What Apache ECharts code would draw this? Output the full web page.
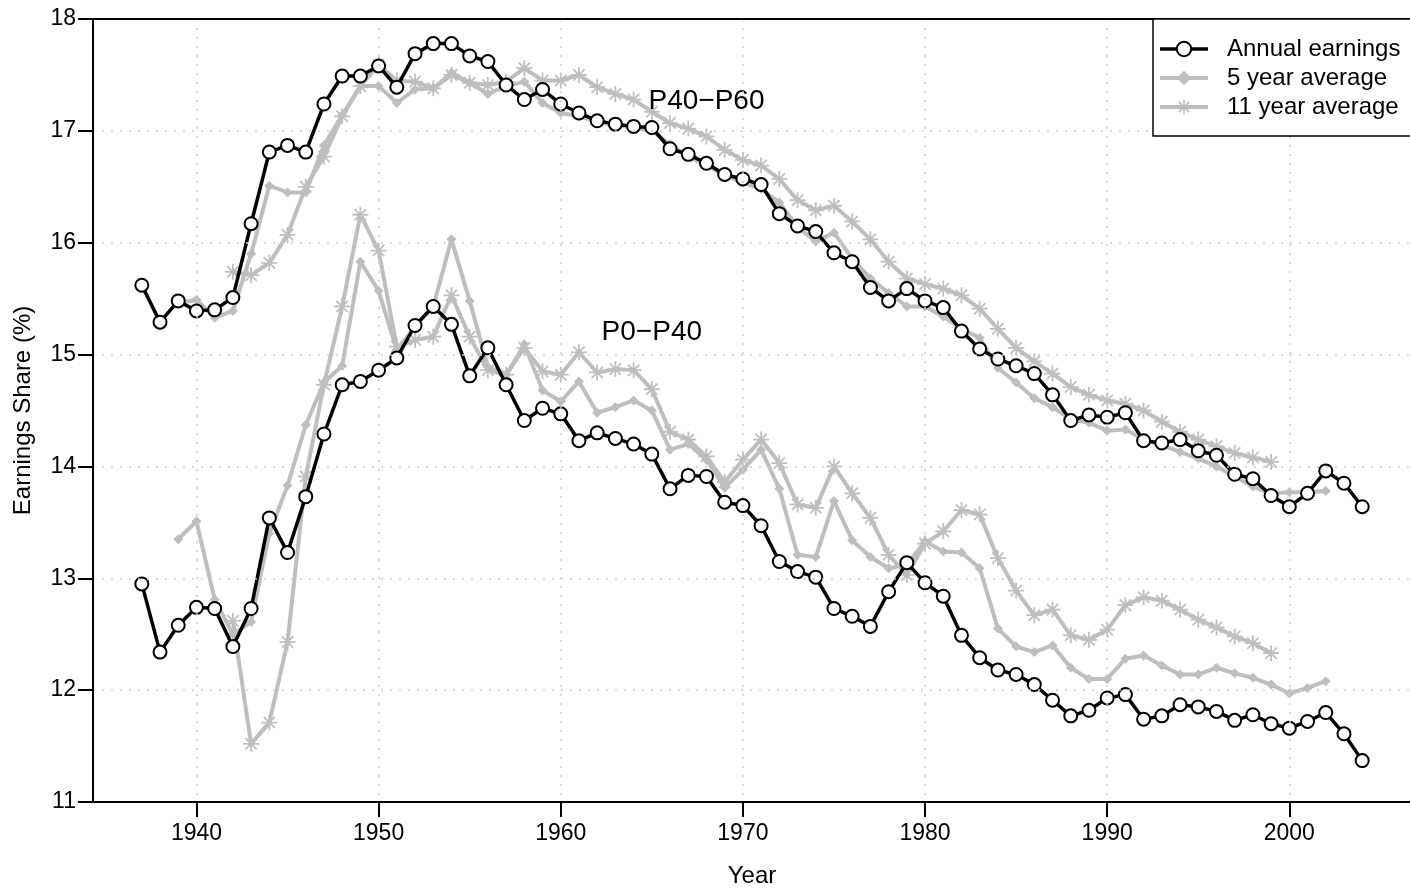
<!DOCTYPE html>
<html>
<head>
<meta charset="utf-8">
<script src="https://cdn.jsdelivr.net/npm/echarts@6/dist/echarts.min.js"></script>
<style>
html,body{margin:0;padding:0;background:#fff;}
#chart{width:1410px;height:888px;}
</style>
</head>
<body>
<div id="chart"></div>
<script>
// ---- Data ----
const annualStart = 1937;   // annual series: 1937-2004
const ma5Start = 1939;      // 5 year average: 1939-2002
const ma11Start = 1942;     // 11 year average: 1942-1999

const midAnnual = [
  15.62, 15.29, 15.48, 15.39, 15.40, 15.51, 16.17, 16.81, 16.87, 16.81, // 1937-1946
  17.24, 17.49, 17.49, 17.58, 17.39, 17.69, 17.78, 17.78, 17.67, 17.62, // 1947-1956
  17.41, 17.28, 17.37, 17.24, 17.16, 17.09, 17.06, 17.04, 17.03, 16.84, // 1957-1966
  16.79, 16.71, 16.61, 16.57, 16.52, 16.26, 16.15, 16.10, 15.91, 15.83, // 1967-1976
  15.60, 15.48, 15.59, 15.48, 15.42, 15.21, 15.05, 14.96, 14.90, 14.83, // 1977-1986
  14.64, 14.41, 14.46, 14.44, 14.48, 14.23, 14.21, 14.24, 14.14, 14.10, // 1987-1996
  13.93, 13.89, 13.74, 13.64, 13.76, 13.96, 13.85, 13.64              // 1997-2004
];
const mid5 = [
  15.46, 15.49, 15.33, 15.39, 15.90, 16.51, 16.45, 16.45, 16.87, 17.14, // 1939-1948
  17.40, 17.40, 17.25, 17.37, 17.38, 17.52, 17.43, 17.33, 17.40, 17.44, // 1949-1958
  17.25, 17.16, 17.13, 17.08, 17.05, 17.03, 17.00, 16.88, 16.77, 16.69, // 1959-1968
  16.60, 16.54, 16.48, 16.36, 16.14, 16.01, 16.09, 15.86, 15.68, 15.55, // 1969-1978
  15.43, 15.43, 15.34, 15.23, 15.15, 14.88, 14.75, 14.61, 14.53, 14.42, // 1979-1988
  14.39, 14.32, 14.33, 14.24, 14.19, 14.13, 14.07, 14.00, 13.91, 13.82, // 1989-1998
  13.76, 13.77, 13.77, 13.78                                            // 1999-2002
];
const mid11 = [
  15.74, 15.71, 15.82, 16.07, 16.50, 16.77, 17.13, 17.40, 17.59, 17.45, // 1942-1951
  17.44, 17.38, 17.50, 17.43, 17.41, 17.44, 17.56, 17.45, 17.45, 17.50, // 1952-1961
  17.39, 17.33, 17.28, 17.17, 17.07, 17.02, 16.95, 16.83, 16.74, 16.69, // 1962-1971
  16.57, 16.38, 16.29, 16.33, 16.19, 16.03, 15.83, 15.68, 15.63, 15.59, // 1972-1981
  15.53, 15.41, 15.23, 15.06, 14.94, 14.83, 14.71, 14.64, 14.59, 14.56, // 1982-1991
  14.50, 14.40, 14.31, 14.24, 14.18, 14.12, 14.08, 14.04              // 1992-1999
];
const lowAnnual = [
  12.95, 12.34, 12.58, 12.74, 12.73, 12.39, 12.73, 13.54, 13.23, 13.73, // 1937-1946
  14.29, 14.73, 14.76, 14.86, 14.97, 15.26, 15.43, 15.27, 14.81, 15.06, // 1947-1956
  14.73, 14.41, 14.52, 14.47, 14.23, 14.30, 14.25, 14.20, 14.11, 13.80, // 1957-1966
  13.92, 13.91, 13.68, 13.65, 13.47, 13.15, 13.06, 13.01, 12.73, 12.66, // 1967-1976
  12.57, 12.88, 13.14, 12.96, 12.84, 12.49, 12.29, 12.18, 12.14, 12.05, // 1977-1986
  11.91, 11.77, 11.82, 11.93, 11.96, 11.74, 11.77, 11.87, 11.85, 11.81, // 1987-1996
  11.73, 11.78, 11.70, 11.66, 11.72, 11.80, 11.61, 11.37              // 1997-2004
];
const low5 = [
  13.35, 13.51, 12.81, 12.50, 12.61, 13.40, 13.83, 14.37, 14.75, 14.90, // 1939-1948
  15.83, 15.57, 15.04, 15.25, 15.43, 16.03, 15.48, 14.89, 14.82, 15.09, // 1949-1958
  14.68, 14.58, 14.76, 14.48, 14.53, 14.59, 14.50, 14.15, 14.20, 14.06, // 1959-1968
  13.81, 13.97, 14.15, 13.80, 13.21, 13.19, 13.69, 13.34, 13.19, 13.09, // 1969-1978
  13.12, 13.33, 13.24, 13.23, 13.09, 12.55, 12.39, 12.34, 12.40, 12.20, // 1979-1988
  12.10, 12.10, 12.28, 12.31, 12.22, 12.14, 12.14, 12.20, 12.15, 12.11, // 1989-1998
  12.05, 11.97, 12.02, 12.08                                            // 1999-2002
];
const low11 = [
  12.62, 11.52, 11.71, 12.43, 13.91, 14.73, 15.43, 16.25, 15.93, 15.07, // 1942-1951
  15.13, 15.16, 15.53, 15.16, 14.86, 14.82, 15.06, 14.85, 14.82, 15.02, // 1952-1961
  14.84, 14.87, 14.86, 14.69, 14.31, 14.24, 14.09, 13.86, 14.06, 14.24, // 1962-1971
  14.03, 13.66, 13.63, 14.00, 13.76, 13.54, 13.21, 13.03, 13.31, 13.42, // 1972-1981
  13.61, 13.57, 13.18, 12.89, 12.67, 12.72, 12.49, 12.45, 12.54, 12.76, // 1982-1991
  12.83, 12.80, 12.72, 12.63, 12.56, 12.48, 12.42, 12.33              // 1992-1999
];
const xTicks = [1940, 1950, 1960, 1970, 1980, 1990, 2000];
const yTicks = [11, 12, 13, 14, 15, 16, 17, 18];
const groupLabels = ['P40\u2212P60', 'P0\u2212P40'];
const groupLabelX = [1968.0, 1965.0];
const groupLabelY = [17.26, 15.20];
const seriesNames = ['Annual earnings', '5 year average', '11 year average'];

// ---- Build ----
function pairs(start, vals) { return vals.map((v, i) => [start + i, v]); }

const FONT = '"Liberation Sans", Arial, Helvetica, sans-serif';
const GRAY = '#bebebe';
const STAR = 'path://M8.9 0H11.1V20H8.9Z M0 8.9H20V11.1H0Z M3.71 2.15L17.85 16.29L16.29 17.85L2.15 3.71Z M2.15 16.29L16.29 2.15L17.85 3.71L3.71 17.85Z';
const XMIN = 1934.32, XMAX = 2006.68;

function annualSeries(vals) {
  return {
    name: seriesNames[0], type: 'line', data: pairs(annualStart, vals),
    symbol: 'circle', symbolSize: 13, z: 5,
    lineStyle: { color: '#000', width: 3.5 },
    itemStyle: { color: '#fff', borderColor: '#000', borderWidth: 2 },
    emphasis: { disabled: true }
  };
}
function ma5Series(vals) {
  return {
    name: seriesNames[1], type: 'line', data: pairs(ma5Start, vals),
    symbol: 'diamond', symbolSize: 10, z: 3,
    lineStyle: { color: GRAY, width: 4 },
    itemStyle: { color: GRAY, borderWidth: 0 },
    emphasis: { disabled: true }
  };
}
function ma11Series(vals) {
  return {
    name: seriesNames[2], type: 'line', data: pairs(ma11Start, vals),
    symbol: STAR, symbolSize: 16, z: 4,
    lineStyle: { color: GRAY, width: 4 },
    itemStyle: { color: GRAY, borderWidth: 0 },
    emphasis: { disabled: true }
  };
}

const chart = echarts.init(document.getElementById('chart'), null, { renderer: 'canvas' });
chart.setOption({
  animation: false,
  backgroundColor: '#fff',
  textStyle: { fontFamily: FONT },
  grid: { left: 93, top: 19, width: 1318, height: 783, containLabel: false, outerBoundsMode: 'none' },
  legend: {
    data: seriesNames,
    orient: 'vertical', left: 1153, top: 19, z: 10,
    itemWidth: 48, itemHeight: 18, itemGap: 5,
    padding: [18, 60, 17, 5],
    borderColor: '#000', borderWidth: 1.5, borderRadius: 0,
    backgroundColor: '#fff',
    lineStyle: { width: 'inherit' },
    textStyle: { fontSize: 24, color: '#000', fontFamily: FONT, padding: [0, 0, 0, 14] },
    selectedMode: false
  },
  xAxis: [{
    type: 'value', min: XMIN, max: XMAX,
    name: 'Year', nameLocation: 'middle', nameGap: 62,
    nameTextStyle: { fontSize: 24, color: '#000', fontFamily: FONT },
    axisLine: { show: true, onZero: false, lineStyle: { color: '#000', width: 2 } },
    axisTick: { show: true, length: 15, lineStyle: { color: '#000', width: 2 }, customValues: xTicks },
    axisLabel: { fontSize: 23, color: '#000', margin: 20, fontFamily: FONT, customValues: xTicks, formatter: v => String(v) },
    splitLine: { show: true, lineStyle: { color: '#cccccc', width: 1.5, type: [2, 7] } },
    z: 8
  }, {
    type: 'value', min: XMIN, max: XMAX, position: 'top',
    axisLine: { show: true, onZero: false, lineStyle: { color: '#000', width: 2 } },
    axisTick: { show: false }, axisLabel: { show: false }, splitLine: { show: false },
    z: 8
  }],
  yAxis: {
    type: 'value', min: 11, max: 18, interval: 1,
    name: 'Earnings Share (%)', nameLocation: 'middle', nameGap: 58,
    nameTextStyle: { fontSize: 24, color: '#000', fontFamily: FONT },
    axisLine: { show: true, onZero: false, lineStyle: { color: '#000', width: 2 } },
    axisTick: { show: true, length: 15, lineStyle: { color: '#000', width: 2 } },
    axisLabel: { fontSize: 23, color: '#000', margin: 17, fontFamily: FONT,
      customValues: yTicks, formatter: v => String(v) },
    splitLine: { show: true, lineStyle: { color: '#cccccc', width: 1.5, type: [2, 7] } },
    z: 8
  },
  series: [
    ma5Series(mid5), ma11Series(mid11),
    ma5Series(low5), ma11Series(low11),
    annualSeries(midAnnual), annualSeries(lowAnnual),
    {
      type: 'scatter', name: 'labels', symbolSize: 1, z: 6,
      itemStyle: { opacity: 1, color: 'rgba(0,0,0,0)' },
      data: groupLabels.map((t, i) => ({ value: [groupLabelX[i], groupLabelY[i]], name: t })),
      label: { show: true, position: 'inside', formatter: p => p.name,
        fontSize: 28, color: '#000', opacity: 1, fontFamily: FONT },
      emphasis: { disabled: true }, silent: true
    }
  ]
});
</script>
</body>
</html>
